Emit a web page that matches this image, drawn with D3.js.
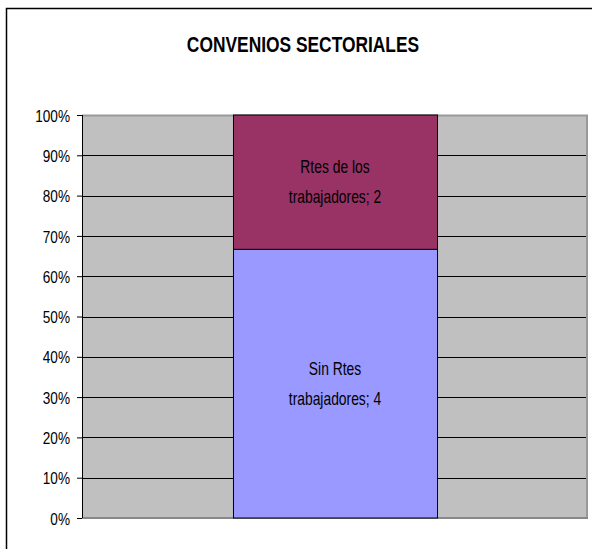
<!DOCTYPE html>
<html><head><meta charset="utf-8">
<script src="https://cdn.jsdelivr.net/npm/d3@7"></script>
<style>body{margin:0;background:#fff}svg{display:block}text{font-family:"Liberation Sans",Arial,sans-serif}</style>
</head><body>
<script>
const title = "CONVENIOS SECTORIALES";
const seriesNames = ["Sin Rtes trabajadores", "Rtes de los trabajadores"];
const labelLines = [["Sin Rtes", "trabajadores; 4"], ["Rtes de los", "trabajadores; 2"]];
const seriesValues = [4, 2];
const seriesColors = ["#9999ff", "#993366"];
const categories = ["Convenios"];
const tickValues = [0, 0.1, 0.2, 0.3, 0.4, 0.5, 0.6, 0.7, 0.8, 0.9, 1.0];

const W = 592, H = 549;
const L = 82, R = 588, T = 115, B = 518;
const svg = d3.select("body").append("svg").attr("width", W).attr("height", H);

// outer chart border
svg.append("path").attr("d", `M6.5,${H}V8.5H${W}`).attr("fill","none").attr("stroke","#000").attr("stroke-width",1.5);

// title
svg.append("text").attr("transform","translate(303,52) scale(0.79,1)")
  .attr("text-anchor","middle").attr("font-size",22).attr("font-weight","bold").text(title);

const y = d3.scaleLinear().domain([0,1]).range([B,T]);
const x = d3.scaleBand().domain(categories).range([L,R]).paddingInner(0).paddingOuter(0.74);

// plot area
svg.append("rect").attr("x",L).attr("y",T).attr("width",R-L).attr("height",B-T).attr("fill","#c0c0c0");
svg.append("path").attr("d",`M${L},${T+0.5}H${R-1}V${B}`).attr("fill","none").attr("stroke","#999").attr("stroke-width",2);
svg.append("line").attr("x1",L).attr("x2",R).attr("y1",B).attr("y2",B).attr("stroke","#888").attr("stroke-width",2);

// gridlines
svg.append("g").selectAll("line").data(tickValues.slice(1,-1)).join("line")
  .attr("x1",L).attr("x2",R-2).attr("y1",d=>Math.round(y(d))+0.5).attr("y2",d=>Math.round(y(d))+0.5)
  .attr("stroke","#000").attr("stroke-width",1);

// stacked data (percent)
const total = d3.sum(seriesValues);
let acc = 0;
const stacked = seriesValues.map((v,i)=>{const s={i,y0:acc/total,y1:(acc+v)/total}; acc+=v; return s;});

const bx = x(categories[0]), bw = x.bandwidth();
svg.append("g").selectAll("rect").data(stacked).join("rect")
  .attr("x",bx+0.5).attr("width",bw)
  .attr("y",d=>y(d.y1)).attr("height",d=>y(d.y0)-y(d.y1))
  .attr("fill",d=>seriesColors[d.i]).attr("stroke","#000").attr("stroke-width",1);

// labels
stacked.forEach(d=>{
  const cy = (y(d.y0)+y(d.y1))/2;
  const lines = labelLines[d.i];
  lines.forEach((t,k)=>{
    const by = cy + (k - (lines.length-1)/2)*30 + 6;
    svg.append("text").attr("transform",`translate(${bx+bw/2},${by}) scale(0.77,1)`)
      .attr("text-anchor","middle").attr("font-size",18).attr("fill","#000").text(t);
  });
});

// y axis
const axis = svg.append("g").attr("transform",`translate(${L},0)`)
  .call(d3.axisLeft(y).tickValues(tickValues).tickFormat(d3.format(".0%")).tickSize(5).tickPadding(7));
axis.select(".domain").attr("stroke","#000").attr("d",`M0.5,${T}V${B}`);
axis.selectAll(".tick line").attr("stroke","#000");
axis.selectAll(".tick text").attr("font-size",17).attr("fill","#000")
  .attr("font-family","Liberation Sans, Arial, sans-serif")
  .attr("dy","0.36em")
  .attr("transform",function(){return `translate(-12,0) scale(0.8,1) translate(12,0)`;});
</script>
</body></html>
